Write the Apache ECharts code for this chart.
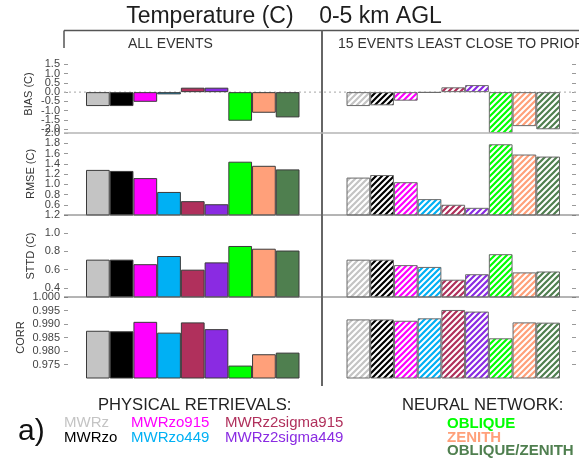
<!DOCTYPE html>
<html><head><meta charset="utf-8">
<script src="https://cdn.jsdelivr.net/npm/echarts@6/dist/echarts.min.js"></script>
<style>html,body{margin:0;padding:0;background:#fff}#c{width:579px;height:461px}</style>
</head><body><div id="c"></div>
<script>
// ---------- data ----------
const categories = ['MWRz','MWRzo','MWRzo915','MWRzo449','MWRz2sigma915','MWRz2sigma449','OBLIQUE','ZENITH','OBLIQUE/ZENITH'];
const physicalNames = ['MWRz','MWRzo','MWRzo915','MWRzo449','MWRz2sigma915','MWRz2sigma449'];
const neuralNames = ['OBLIQUE','ZENITH','OBLIQUE/ZENITH'];
const barColors = ['#c4c4c4','#000000','#ff00ff','#00b0f4','#b0305c','#8a2be2','#00ff00','#ffa07a','#4f7f4f'];

const biasAll   = [-0.75,-0.75,-0.52,-0.12,0.24,0.24,-1.54,-1.11,-1.36];
const biasLeast = [-0.75,-0.71,-0.46,-0.03,0.26,0.38,-2.20,-1.83,-2.00];
const rmseAll   = [1.28,1.26,1.12,0.85,0.67,0.61,1.44,1.36,1.29];
const rmseLeast = [1.13,1.18,1.04,0.71,0.60,0.54,1.78,1.58,1.54];
const sttdAll   = [0.71,0.71,0.66,0.75,0.60,0.68,0.86,0.83,0.81];
const sttdLeast = [0.71,0.71,0.65,0.63,0.49,0.55,0.77,0.57,0.58];
const corrAll   = [0.9875,0.9873,0.9908,0.9868,0.9906,0.9881,0.9746,0.9788,0.9794];
const corrLeast = [0.9917,0.9917,0.9912,0.9921,0.9952,0.9946,0.9847,0.9906,0.9905];

const biasTicks = [-2.0,-1.5,-1.0,-0.5,0.0,0.5,1.0,1.5];
const rmseTicks = [0.6,0.8,1.0,1.2,1.4,1.6,1.8,2.0];
const sttdTicks = [0.4,0.6,0.8,1.0,1.2];
const corrTicks = [0.975,0.980,0.985,0.990,0.995,1.000];

const chartTitle = 'Temperature (C)    0-5 km AGL';
const panelTitles = ['ALL EVENTS','15 EVENTS LEAST CLOSE TO PRIOR'];
const rowNames = ['BIAS (C)','RMSE (C)','STTD (C)','CORR'];
const physicalHeader = 'PHYSICAL RETRIEVALS:';
const neuralHeader = 'NEURAL NETWORK:';
const panelTag = 'a)';

// ---------- layout ----------
const FONT = '"Liberation Sans", Arial, Helvetica, sans-serif';
const rows = [
  {top:55,  height:78, min:-2.2, max:2.0, ticks:biasTicks, dec:1, nameGap:30, data:[biasAll,biasLeast]},
  {top:133, height:82, min:0.4,  max:2.0, ticks:rmseTicks, dec:1, nameGap:28, data:[rmseAll,rmseLeast]},
  {top:215, height:82, min:0.3,  max:1.2, ticks:sttdTicks, dec:1, nameGap:28, data:[sttdAll,sttdLeast]},
  {top:297, height:81, min:0.97, max:1.0, ticks:corrTicks, dec:3, nameGap:38, data:[corrAll,corrLeast]}
];
const panels = [{left:86, width:213.5}, {left:346.5, width:213.5}];

function hatch(color){
  const c = document.createElement('canvas');
  c.width = 6; c.height = 6;
  const g = c.getContext('2d');
  g.fillStyle = '#ffffff'; g.fillRect(0,0,6,6);
  g.strokeStyle = color; g.lineWidth = 2.2;
  g.beginPath();
  g.moveTo(-1,7); g.lineTo(7,-1);
  g.moveTo(-1,1); g.lineTo(1,-1);
  g.moveTo(5,7); g.lineTo(7,5);
  g.stroke();
  return {image:c, repeat:'repeat'};
}
const hatches = barColors.map(hatch);

function labelCfg(vals, dec){
  return {show:true, customValues:vals, margin:4, color:'#444', fontSize:11, fontFamily:FONT,
          showMinLabel:true, showMaxLabel:true, hideOverlap:false,
          formatter:v => Number(v).toFixed(dec)};
}

const grid = [], xAxis = [], yAxis = [], series = [], extraAxes = [];
rows.forEach((r, ri) => {
  panels.forEach((p, pi) => {
    const gi = ri*2 + pi;
    grid.push({left:p.left, width:p.width, top:r.top, height:r.height});
    xAxis.push({type:'category', gridIndex:gi, data:categories, show:false});
    const tickCfg = {show:true, inside: pi===0, length:4, customValues:r.ticks, lineStyle:{color:'#9a9a9a', width:1}};
    const even = r.ticks.filter((v,i) => i%2===0);
    const odd  = r.ticks.filter((v,i) => i%2===1);
    yAxis.push({
      type:'value', gridIndex:gi, min:r.min, max:r.max,
      position: pi===0 ? 'left' : 'right',
      offset: pi===0 ? 22 : 12,
      splitLine:{show:false},
      axisLine:{show:false},
      axisTick: tickCfg,
      axisLabel: pi===0 ? labelCfg(even, r.dec) : {show:false},
      name: pi===0 ? rowNames[ri] : '',
      nameLocation:'middle', nameGap:r.nameGap,
      nameTextStyle:{color:'#333', fontSize:11, fontFamily:FONT}
    });
    if (pi===0) {
      extraAxes.push({
        type:'value', gridIndex:gi, min:r.min, max:r.max, position:'left', offset:22,
        splitLine:{show:false}, axisLine:{show:false}, axisTick:{show:false},
        axisLabel: labelCfg(odd, r.dec)
      });
    }
    series.push({
      type:'bar', xAxisIndex:gi, yAxisIndex:gi,
      barCategoryGap:'0%',
      data: r.data[pi].map((v,i) => ({
        value:v,
        itemStyle: pi===0 ? {color:barColors[i], borderColor:'#3a3a3a', borderWidth:1}
                          : {color:hatches[i], borderColor:'#6a6a6a', borderWidth:1}
      })),
      silent:true, animation:false
    });
  });
});
extraAxes.forEach(a => yAxis.push(a));

const chart = echarts.init(document.getElementById('c'), null, {renderer:'canvas'});
chart.setOption({backgroundColor:'#ffffff', animation:false, grid, xAxis, yAxis, series});

// ---------- decorations ----------
const y0 = chart.convertToPixel({yAxisIndex:0}, 0);
function hline(y, x1, x2, color, w, dash, z){
  return {type:'line', z:z||10, silent:true, shape:{x1:x1, y1:y, x2:x2, y2:y},
          style:{stroke:color, lineWidth:w, lineDash:dash||null}};
}
function vline(x, y1, y2, color, w){
  return {type:'line', z:10, silent:true, shape:{x1:x, y1:y1, x2:x, y2:y2}, style:{stroke:color, lineWidth:w}};
}
function txt(s, x, y, size, color, opts){
  opts = opts || {};
  return {type:'text', z:20, silent:true, x:x, y:y,
          style:{text:s, fill:color, font:(opts.bold?'bold ':'')+size+'px '+FONT,
                 textAlign:opts.align||'left', textVerticalAlign:'middle'}};
}
const g = [];
g.push(hline(y0, 64, 579, '#b8b8b8', 1.2, [2,3], 1));
g.push(hline(30.5, 64, 579, '#555', 1.5));
g.push(vline(64, 30.5, 48, '#555', 1.5));
g.push(vline(322, 30.5, 386, '#666', 2));
g.push(hline(rows[0].top + rows[0].height, 64, 579, '#b5b5b5', 1.5));
g.push(hline(rows[1].top + rows[1].height, 64, 579, '#6a6a6a', 1));
g.push(hline(rows[2].top + rows[2].height, 64, 579, '#6a6a6a', 1));

g.push(txt(chartTitle, 284, 17, 23, '#1e1e1e', {align:'center'}));
g.push(txt(panelTitles[0], 128, 44, 14, '#333'));
g.push(txt(panelTitles[1], 338, 44, 14, '#333'));

g.push(txt(physicalHeader, 98, 405, 16.6, '#222'));
g.push(txt(neuralHeader, 402, 405, 16.6, '#222'));
g.push(txt(panelTag, 18, 432, 30, '#111'));

const legX = [64, 64, 131, 131, 225, 225];
const legY = [423, 438, 423, 438, 423, 438];
physicalNames.forEach((n,i) => g.push(txt(n, legX[i], legY[i], 15, barColors[i])));
neuralNames.forEach((n,i) => g.push(txt(n, 447, 424 + i*13.5, 15, barColors[6+i], {bold:true})));

chart.setOption({graphic: g});
</script></body></html>
